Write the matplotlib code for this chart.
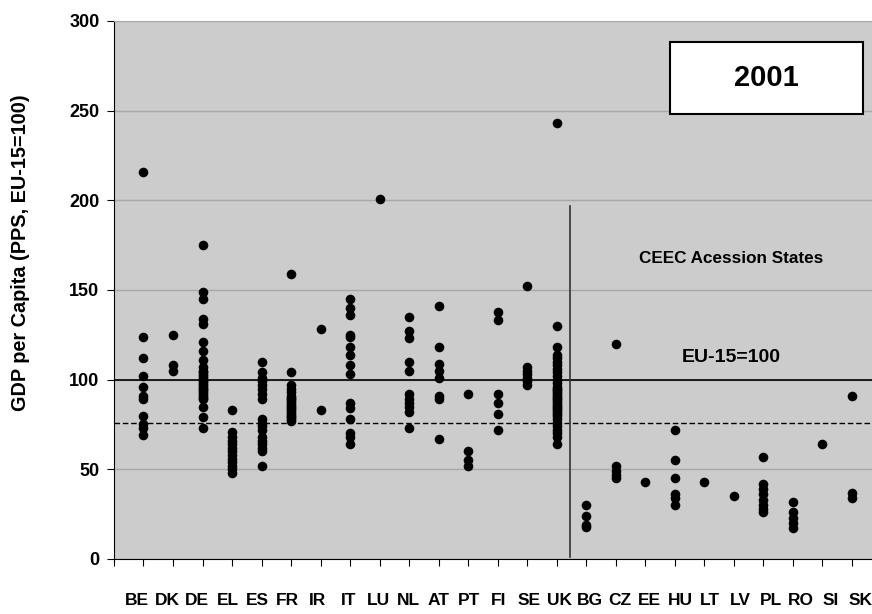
import matplotlib
matplotlib.use("Agg")
from matplotlib import pyplot as plt
from matplotlib.patches import Rectangle
import numpy as np

plt.rcParams["font.family"] = ["Liberation Sans", "DejaVu Sans"]
plt.rcParams["font.weight"] = "bold"

# - Regional GDP per capita, 2001 (PPS, EU-15=100)
countries = ["BE", "DK", "DE", "EL", "ES", "FR", "IR", "IT", "LU", "NL", "AT", "PT", "FI",
             "SE", "UK", "BG", "CZ", "EE", "HU", "LT", "LV", "PL", "RO", "SI", "SK"]

be = [216, 124, 112, 102, 96, 91, 89, 80, 75, 73, 69]
dk = [125, 108, 105]
de = [175, 149, 145, 134, 131, 121, 116, 111, 107, 105, 104, 103, 102, 101, 100, 99,
      98, 97, 96, 95, 94, 93, 92, 91, 90, 89, 85, 79, 73]
el = [83, 71, 68, 66, 64, 62, 60, 58, 56, 54, 52, 50, 48]
es = [110, 104, 101, 99, 97, 95, 92, 89, 78, 76, 74, 72, 68, 66, 64, 62, 60, 52]
fr = [159, 104, 97, 95, 93, 91, 90, 89, 88, 87, 86, 85, 84, 83, 82, 81, 80, 79, 78, 77]
ir = [128, 83]
it = [145, 140, 136, 125, 124, 118, 114, 108, 103, 87, 84, 78, 70, 68, 64]
lu = [201]
nl = [135, 127, 123, 110, 105, 92, 89, 87, 85, 82, 73]
at = [141, 118, 109, 105, 101, 91, 89, 67]
pt = [92, 60, 55, 52]
fi = [138, 133, 92, 87, 81, 72]
se = [152, 107, 105, 103, 101, 99, 97]
uk = [243, 130, 118, 114, 112, 110, 108, 106, 104, 102, 100, 98, 96, 95, 94, 93, 92,
      91, 90, 89, 88, 87, 86, 85, 84, 83, 82, 81, 80, 78, 76, 74, 72, 70, 68, 64]
bg = [30, 24, 19, 18]
cz = [120, 52, 49, 47, 45]
ee = [43]
hu = [72, 55, 45, 36, 34, 30]
lt = [43]
lv = [35]
pl = [57, 42, 39, 36, 33, 30, 28, 26]
ro = [32, 26, 23, 20, 17]
si = [64]
sk = [91, 37, 34]

values = [be, dk, de, el, es, fr, ir, it, lu, nl, at, pt, fi, se, uk,
          bg, cz, ee, hu, lt, lv, pl, ro, si, sk]

eu_avg = 100
threshold = 76

fig = plt.figure(figsize=(8.72, 6.14), dpi=100)
ax = fig.add_axes([0.1307, 0.0896, 0.8693, 0.8762])
ax.set_facecolor("#cccccc")

for i, vals in enumerate(values):
    ax.scatter([i + 1] * len(vals), vals, s=48, color="black", zorder=3, linewidths=0)

ax.set_xlim(0, 25.68)
ax.set_ylim(0, 300)
ax.set_yticks(range(0, 301, 50))
ax.set_xticks(range(0, 26))
ax.set_xticklabels([])
ax.tick_params(axis="y", direction="out", length=5, labelsize=13, pad=5.5)
ax.tick_params(axis="x", direction="out", length=5)
for lbl in ax.get_yticklabels():
    lbl.set_fontweight("bold")
ax.yaxis.grid(True, color="#a8a8a8", linewidth=1)
ax.set_axisbelow(True)

ax.spines["right"].set_visible(False)
ax.spines["top"].set_color("#a8a8a8")
ax.spines["left"].set_color("black")
ax.spines["bottom"].set_color("black")

ax.axhline(eu_avg, color="black", linewidth=1.2, zorder=2)
ax.axhline(threshold, color="black", linewidth=1, linestyle=(0, (4, 2)), zorder=2)
ax.plot([15.45, 15.45], [1, 197], color="#333333", linewidth=1.2, zorder=2)

ax.text(20.9, 167.5, "CEEC Acession States", ha="center", va="center",
        fontsize=12.3, fontweight="bold")
ax.text(20.9, 112.3, "EU-15=100", ha="center", va="center",
        fontsize=14, fontweight="bold")

ax.add_patch(Rectangle((18.83, 248), 6.54, 40.3, facecolor="white", edgecolor="black",
                       linewidth=1.5, zorder=4))
ax.text(22.1, 268, "2001", ha="center", va="center", fontsize=21,
        fontweight="bold", zorder=5)

ax.set_ylabel("GDP per Capita (PPS, EU-15=100)", fontsize=14.3, fontweight="bold")
ax.yaxis.set_label_coords(-0.111, 0.57)

# country codes row, spread evenly under the axis
label_x = np.linspace(137 / 872, 861 / 872, len(countries))
for x, c in zip(label_x, countries):
    fig.text(x, 0.0228, c, ha="center", va="center", fontsize=12.5, fontweight="bold")

plt.savefig("out.png", dpi=100)
